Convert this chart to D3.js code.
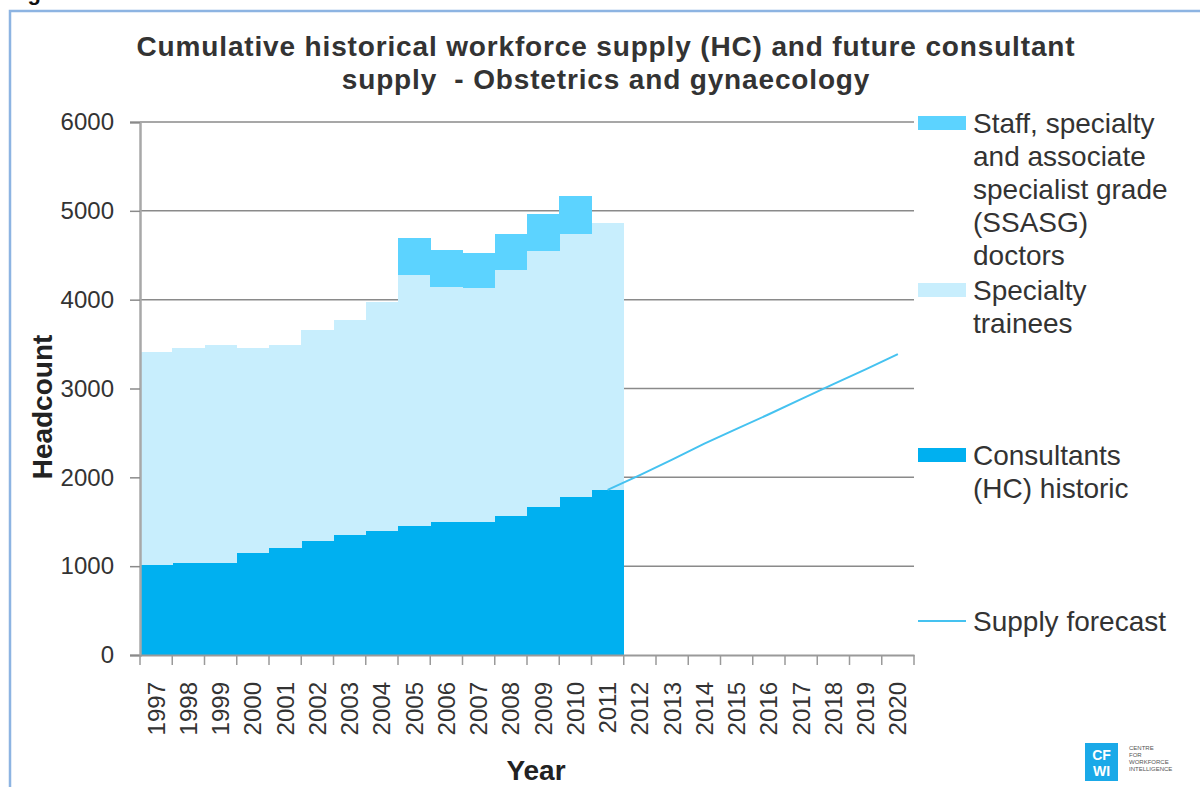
<!DOCTYPE html>
<html>
<head>
<meta charset="utf-8">
<script src="https://d3js.org/d3.v7.min.js"></script>
<style>
  body { margin: 0; background: #fff; }
  svg { display: block; font-family: "Liberation Sans", Arial, sans-serif; }
</style>
</head>
<body>
<div id="chart"></div>
<script>
// categories on the x axis
var years = ["1997","1998","1999","2000","2001","2002","2003","2004","2005","2006","2007","2008",
             "2009","2010","2011","2012","2013","2014","2015","2016","2017","2018","2019","2020"];

// historic stacked columns (headcount)
var histYears   = ["1997","1998","1999","2000","2001","2002","2003","2004","2005","2006","2007","2008","2009","2010","2011"];
var consultants = [1014, 1033, 1033, 1145, 1205, 1288, 1352, 1393, 1457, 1494, 1494, 1562, 1667, 1776, 1855];
var trainees    = [2396, 2422, 2459, 2310, 2287, 2373, 2418, 2580, 2816, 2651, 2632, 2775, 2880, 2958, 3007];
var ssasg       = [0, 0, 0, 0, 0, 0, 0, 0, 420, 417, 394, 397, 417, 436, 0];

// consultant supply forecast
var forecastYears = ["2011","2012","2013","2014","2015","2016","2017","2018","2019","2020"];
var forecast      = [1858, 2025, 2200, 2380, 2545, 2710, 2880, 3050, 3215, 3387];

var yTicks = [0, 1000, 2000, 3000, 4000, 5000, 6000];

var seriesKeys  = ["consultants", "trainees", "ssasg"];
var seriesColor = {consultants: "#00b0f0", trainees: "#c8eefd", ssasg: "#5cd3ff"};
var lineColor = "#45c2f0";
var textColor = "#333333";

var width = 1200, height = 787;
var margin = {top: 122, right: 286, bottom: 132, left: 140};

var svg = d3.select("#chart").append("svg")
    .attr("width", width)
    .attr("height", height);

// outer frame
svg.append("path")
    .attr("d", "M10," + (height + 5) + "V11H" + (width + 5))
    .attr("fill", "none")
    .attr("stroke", "#8db4e2")
    .attr("stroke-width", 2.5);

// caption above the frame, cut off by the page edge as in the source
svg.append("text")
    .attr("x", 8).attr("y", 0)
    .style("font-size", "22px").style("font-weight", "bold")
    .attr("fill", "#111")
    .text("Figure 1");

var x = d3.scaleBand()
    .domain(years)
    .range([margin.left, width - margin.right])
    .padding(0);

var y = d3.scaleLinear()
    .domain([0, 6000])
    .range([height - margin.bottom, margin.top]);

// gridlines
svg.append("g")
    .selectAll("line")
    .data(yTicks.slice(1))
    .enter().append("line")
    .attr("x1", x.range()[0])
    .attr("x2", x.range()[1])
    .attr("y1", function(d) { return y(d); })
    .attr("y2", function(d) { return y(d); })
    .attr("stroke", "#8a8a8a")
    .attr("stroke-width", 1.5);

// stacked columns
var table = histYears.map(function(yr, i) {
    return {year: yr, consultants: consultants[i], trainees: trainees[i], ssasg: ssasg[i]};
});
var stacked = d3.stack().keys(seriesKeys)(table);

svg.append("g")
    .selectAll("g")
    .data(stacked)
    .enter().append("g")
    .attr("fill", function(d) { return seriesColor[d.key]; })
    .selectAll("rect")
    .data(function(d) { return d; })
    .enter().append("rect")
    .attr("x", function(d) { return x(d.data.year); })
    .attr("width", x.bandwidth() + 0.4)
    .attr("y", function(d) { return y(d[1]); })
    .attr("height", function(d) { return y(d[0]) - y(d[1]); })
    .attr("shape-rendering", "crispEdges");

// forecast line
var line = d3.line()
    .x(function(d, i) { return x(forecastYears[i]) + x.bandwidth() / 2; })
    .y(function(d) { return y(d); });

svg.append("path")
    .datum(forecast)
    .attr("d", line)
    .attr("fill", "none")
    .attr("stroke", lineColor)
    .attr("stroke-width", 2);

// y axis
var yAxis = svg.append("g")
    .attr("transform", "translate(" + margin.left + ",0)")
    .call(d3.axisLeft(y).tickValues(yTicks).tickFormat(d3.format("d")).tickSize(10).tickPadding(16));
yAxis.select(".domain").attr("stroke", "#a8a8a8").attr("stroke-width", 2.5);
yAxis.selectAll(".tick line").attr("stroke", "#8a8a8a").attr("stroke-width", 1.5);
yAxis.selectAll(".tick text")
    .attr("fill", textColor)
    .style("font-size", "24px")
    .style("font-family", "'Liberation Sans', Arial, sans-serif");

// x axis
var xAxis = svg.append("g")
    .attr("transform", "translate(0," + y(0) + ")")
    .call(d3.axisBottom(x).tickSize(0).tickSizeOuter(0));
xAxis.select(".domain").attr("stroke", "#9a9a9a").attr("stroke-width", 2);
xAxis.selectAll(".tick text")
    .attr("transform", "rotate(-90)")
    .attr("text-anchor", "end")
    .attr("x", -27)
    .attr("y", 0)
    .attr("dy", "0.35em")
    .attr("fill", textColor)
    .style("font-size", "24px")
    .style("font-family", "'Liberation Sans', Arial, sans-serif");

// boundary ticks between categories
svg.append("g")
    .selectAll("line")
    .data(years.concat(["end"]))
    .enter().append("line")
    .attr("x1", function(d) { return d === "end" ? x.range()[1] : x(d); })
    .attr("x2", function(d) { return d === "end" ? x.range()[1] : x(d); })
    .attr("y1", y(0))
    .attr("y2", y(0) + 10)
    .attr("stroke", "#9a9a9a")
    .attr("stroke-width", 1.5);

// title
var title = ["Cumulative historical workforce supply (HC) and future consultant",
             "supply  - Obstetrics and gynaecology"];
svg.append("g").selectAll("text")
    .data(title)
    .enter().append("text")
    .attr("x", 606)
    .attr("y", function(d, i) { return 56 + i * 33; })
    .attr("text-anchor", "middle")
    .attr("fill", textColor)
    .style("font-size", "28px")
    .style("font-weight", "bold")
    .style("letter-spacing", "0.85px")
    .style("white-space", "pre")
    .text(function(d) { return d; });

// axis titles
svg.append("text")
    .attr("x", (x.range()[0] + x.range()[1]) / 2 + 9)
    .attr("y", 780)
    .attr("text-anchor", "middle")
    .attr("fill", "#222")
    .style("font-size", "28px")
    .style("font-weight", "bold")
    .text("Year");

svg.append("text")
    .attr("transform", "translate(52,407) rotate(-90)")
    .attr("text-anchor", "middle")
    .attr("fill", "#222")
    .style("font-size", "28px")
    .style("font-weight", "bold")
    .text("Headcount");

// legend
var legendItems = [
    {type: "rect", color: seriesColor.ssasg, y: 123,
     lines: ["Staff, specialty", "and associate", "specialist grade", "(SSASG)", "doctors"]},
    {type: "rect", color: seriesColor.trainees, y: 290, lines: ["Specialty", "trainees"]},
    {type: "rect", color: seriesColor.consultants, y: 455, lines: ["Consultants", "(HC) historic"]},
    {type: "line", color: lineColor, y: 621, lines: ["Supply forecast"]}
];

var legend = svg.append("g")
    .selectAll("g")
    .data(legendItems)
    .enter().append("g")
    .attr("transform", function(d) { return "translate(918," + d.y + ")"; });

legend.filter(function(d) { return d.type === "rect"; })
    .append("rect")
    .attr("x", 0).attr("y", -7)
    .attr("width", 48).attr("height", 14)
    .attr("fill", function(d) { return d.color; });

legend.filter(function(d) { return d.type === "line"; })
    .append("line")
    .attr("x1", 0).attr("x2", 48)
    .attr("stroke", function(d) { return d.color; })
    .attr("stroke-width", 2);

legend.append("text")
    .attr("fill", textColor)
    .style("font-size", "28px")
    .selectAll("tspan")
    .data(function(d) { return d.lines; })
    .enter().append("tspan")
    .attr("x", 55)
    .attr("y", function(d, i) { return 10 + i * 33; })
    .text(function(d) { return d; });

// logo
var logo = svg.append("g").attr("transform", "translate(1085,743)");
logo.append("rect").attr("width", 33).attr("height", 38).attr("fill", "#1aa9e8");
logo.append("text").attr("x", 16.5).attr("y", 17).attr("text-anchor", "middle")
    .attr("fill", "#fff").style("font-size", "14px").style("font-weight", "bold").text("CF");
logo.append("text").attr("x", 16.5).attr("y", 33).attr("text-anchor", "middle")
    .attr("fill", "#fff").style("font-size", "14px").style("font-weight", "bold").text("WI");
logo.append("g").selectAll("text")
    .data(["CENTRE", "FOR", "WORKFORCE", "INTELLIGENCE"])
    .enter().append("text")
    .attr("x", 44)
    .attr("y", function(d, i) { return 7 + i * 7; })
    .attr("fill", "#555")
    .style("font-size", "6px")
    .text(function(d) { return d; });
</script>
</body>
</html>
